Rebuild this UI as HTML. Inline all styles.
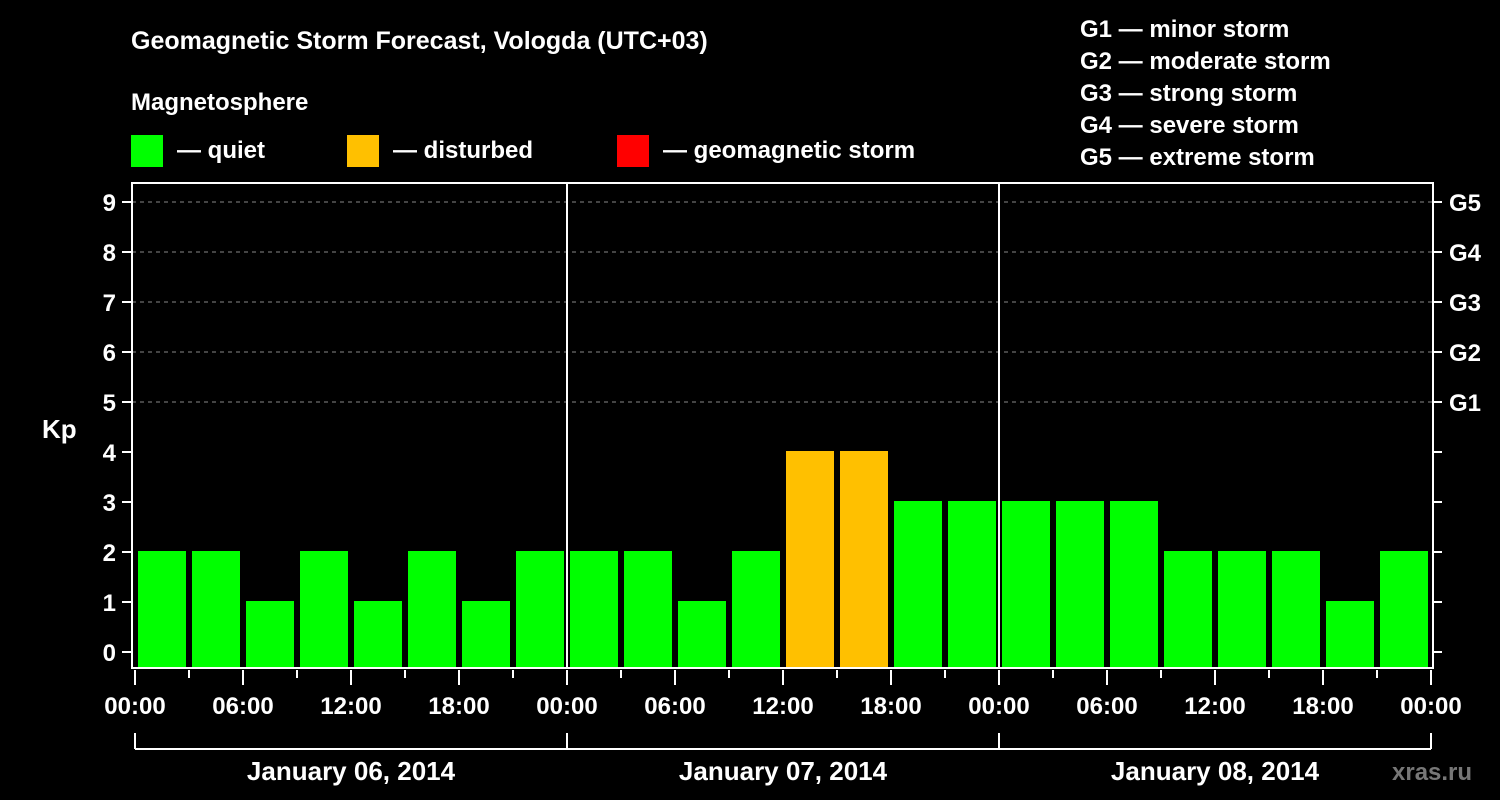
<!DOCTYPE html>
<html><head><meta charset="utf-8"><style>
html,body{margin:0;padding:0;background:#000;}
svg{display:block;font-family:"Liberation Sans",sans-serif;font-weight:bold;}
</style></head><body>
<svg id="chart" width="1500" height="800" viewBox="0 0 1500 800">
<rect width="1500" height="800" fill="#000"/>
<text x="131" y="49" fill="#fff" font-size="25">Geomagnetic Storm Forecast, Vologda (UTC+03)</text>
<text x="131" y="110" fill="#fff" font-size="24">Magnetosphere</text>
<g><rect x="131" y="135" width="32" height="32" fill="#00ff00"/><text x="177" y="158" fill="#fff" font-size="24">— quiet</text></g>
<g><rect x="347" y="135" width="32" height="32" fill="#ffc000"/><text x="393" y="158" fill="#fff" font-size="24">— disturbed</text></g>
<g><rect x="617" y="135" width="32" height="32" fill="#ff0000"/><text x="663" y="158" fill="#fff" font-size="24">— geomagnetic storm</text></g>
<g fill="#fff" font-size="24">
<text x="1080" y="37">G1 — minor storm</text>
<text x="1080" y="69">G2 — moderate storm</text>
<text x="1080" y="101">G3 — strong storm</text>
<text x="1080" y="133">G4 — severe storm</text>
<text x="1080" y="165">G5 — extreme storm</text>
</g>
<text x="42" y="438" fill="#fff" font-size="26">Kp</text>
<g id="grid"></g><g id="bars"></g><g id="axes"></g>
<text x="1392" y="780" fill="#777" font-size="24">xras.ru</text>
</svg>
<script>
const kpValues = [2,2,1,2,1,2,1,2, 2,2,1,2,4,4,3,3, 3,3,3,2,2,2,1,2];
const dayLabels = ["January 06, 2014","January 07, 2014","January 08, 2014"];
const hourLabels = ["00:00","06:00","12:00","18:00"];
const yTicks = [0,1,2,3,4,5,6,7,8,9];
const gLabels = ["G1","G2","G3","G4","G5"];
const NS="http://www.w3.org/2000/svg";
const L=132,R=1433,T=183,B=668,x0=135,dayW=432;
const y=v=>652-v*50;
const x=i=>x0+i*dayW/8;
function el(tag,attrs,parent,txt){const e=document.createElementNS(NS,tag);for(const k in attrs)e.setAttribute(k,attrs[k]);if(txt!==undefined)e.textContent=txt;parent.appendChild(e);return e;}
const grid=document.getElementById('grid'),bars=document.getElementById('bars'),axes=document.getElementById('axes');
yTicks.forEach(v=>{if(v>=5){const g=el('line',{x1:L,x2:R,y1:y(v),y2:y(v),stroke:'#888','stroke-dasharray':'4,4','stroke-width':1},grid);}});
kpValues.forEach((v,i)=>{const c=v>=5?'#ff0000':(v>=4?'#ffc000':'#00ff00');const b=el('rect',{x:x(i)+3,y:y(v)-1,width:48,height:B-(y(v)-1),fill:c},bars);});
const fr=el('rect',{x:L,y:T,width:R-L,height:B-T,fill:'none',stroke:'#fff','stroke-width':2},axes);

for(let d=1;d<dayLabels.length;d++){const s=el('line',{x1:x0+d*dayW,x2:x0+d*dayW,y1:T,y2:B,stroke:'#fff','stroke-width':2},axes);}
yTicks.forEach(v=>{el('line',{x1:122,x2:L,y1:y(v),y2:y(v),stroke:'#fff','stroke-width':2},axes);const t=el('text',{x:116,y:y(v)+9,fill:'#fff','font-size':24,'text-anchor':'end'},axes,String(v));el('line',{x1:R,x2:R+9,y1:y(v),y2:y(v),stroke:'#fff','stroke-width':2},axes);});
gLabels.forEach((g,i)=>{const t=el('text',{x:1449,y:y(5+i)+9,fill:'#fff','font-size':24},axes,g);});
for(let i=0;i<=kpValues.length;i++){const major=i%2===0;el('line',{x1:x(i),x2:x(i),y1:B+2,y2:major?B+17:B+10,stroke:'#fff','stroke-width':2},axes);if(major){const t=el('text',{x:x(i),y:714,fill:'#fff','font-size':24,'text-anchor':'middle'},axes,hourLabels[(i/2)%4]);}}
el('line',{x1:x0,x2:x0+dayW*dayLabels.length,y1:749,y2:749,stroke:'#fff','stroke-width':2},axes);
for(let d=0;d<=dayLabels.length;d++)el('line',{x1:x0+d*dayW,x2:x0+d*dayW,y1:733,y2:749,stroke:'#fff','stroke-width':2},axes);
dayLabels.forEach((lab,d)=>{const t=el('text',{x:x0+d*dayW+dayW/2,y:780,fill:'#fff','font-size':26,'text-anchor':'middle'},axes,lab);});
</script>
</body></html>
